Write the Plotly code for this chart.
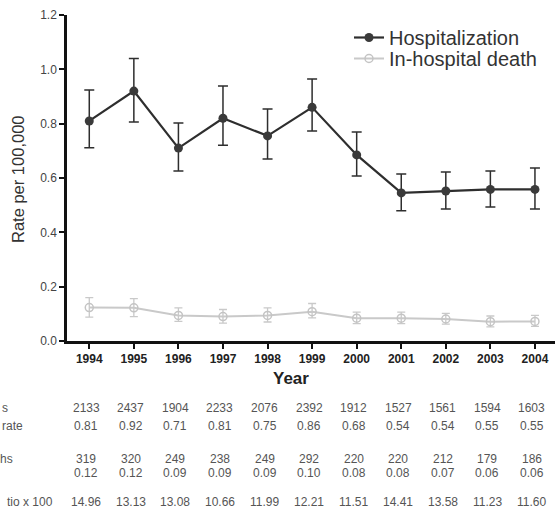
import plotly.graph_objects as go

years = [1994, 1995, 1996, 1997, 1998, 1999, 2000, 2001, 2002, 2003, 2004]

hosp_rate = [0.81, 0.92, 0.71, 0.82, 0.755, 0.86, 0.685, 0.545, 0.552, 0.558, 0.558]
hosp_lo = [0.711, 0.806, 0.626, 0.721, 0.670, 0.773, 0.607, 0.479, 0.486, 0.493, 0.486]
hosp_hi = [0.924, 1.040, 0.802, 0.939, 0.854, 0.964, 0.769, 0.615, 0.622, 0.626, 0.637]

death_rate = [0.123, 0.122, 0.094, 0.090, 0.094, 0.108, 0.084, 0.084, 0.081, 0.071, 0.072]
death_lo = [0.088, 0.090, 0.072, 0.066, 0.070, 0.085, 0.064, 0.064, 0.062, 0.052, 0.054]
death_hi = [0.160, 0.156, 0.122, 0.116, 0.122, 0.138, 0.106, 0.106, 0.102, 0.092, 0.094]

# table rows beneath the chart (row labels are cut off at the left edge in the source)
row_labels = ["s", "rate", "hs", "", "tio x 100"]
row_values = [
    ["2133", "2437", "1904", "2233", "2076", "2392", "1912", "1527", "1561", "1594", "1603"],
    ["0.81", "0.92", "0.71", "0.81", "0.75", "0.86", "0.68", "0.54", "0.54", "0.55", "0.55"],
    ["319", "320", "249", "238", "249", "292", "220", "220", "212", "179", "186"],
    ["0.12", "0.12", "0.09", "0.09", "0.09", "0.10", "0.08", "0.08", "0.07", "0.06", "0.06"],
    ["14.96", "13.13", "13.08", "10.66", "11.99", "12.21", "11.51", "14.41", "13.58", "11.23", "11.60"],
]

FONT = "Arial, 'Liberation Sans', sans-serif"
W, H = 555, 520
ML, MR, MT, MB = 67, 0, 15, 179
PW = W - ML - MR
PH = H - MT - MB


def py(pix):
    return (H - MB - pix) / PH


def px(pix):
    return (pix - ML) / PW


fig = go.Figure()

fig.add_trace(go.Scatter(
    x=years, y=death_rate, name="In-hospital death", mode="lines+markers",
    legend="legend2",
    line=dict(color="#c9c9c9", width=2),
    marker=dict(symbol="circle-open", size=8, color="#c4c4c4", line=dict(width=1.5)),
    error_y=dict(type="data", symmetric=False,
                 array=[h - v for h, v in zip(death_hi, death_rate)],
                 arrayminus=[v - l for v, l in zip(death_rate, death_lo)],
                 color="#c9c9c9", thickness=1.3, width=4),
))

fig.add_trace(go.Scatter(
    x=years, y=hosp_rate, name="Hospitalization", mode="lines+markers",
    legend="legend",
    line=dict(color="#2e2e2e", width=2.2),
    marker=dict(symbol="circle", size=9, color="#3a3a3a"),
    error_y=dict(type="data", symmetric=False,
                 array=[h - v for h, v in zip(hosp_hi, hosp_rate)],
                 arrayminus=[v - l for v, l in zip(hosp_rate, hosp_lo)],
                 color="#2e2e2e", thickness=1.5, width=5),
))

legend_common = dict(xanchor="left", yanchor="top", font=dict(size=20, color="#333"),
                     bgcolor="rgba(0,0,0,0)", borderwidth=0)

fig.update_layout(
    width=W, height=H,
    margin=dict(l=ML, r=MR, t=MT, b=MB, pad=0),
    paper_bgcolor="white", plot_bgcolor="white",
    font=dict(family=FONT, color="#333"),
    showlegend=True,
    legend=dict(x=px(349), y=py(18), **legend_common),
    legend2=dict(x=px(349), y=py(39), **legend_common),
    xaxis=dict(range=[1993.5, 2004.45], tickmode="array", tickvals=years,
               ticktext=[f"<b>{y}</b>" for y in years],
               showline=True, linecolor="#111", linewidth=2.5,
               ticks="outside", ticklen=5, tickwidth=2, tickcolor="#111",
               showgrid=False, zeroline=False,
               tickfont=dict(size=12, color="#222")),
    yaxis=dict(range=[0, 1.2], tickvals=[0, 0.2, 0.4, 0.6, 0.8, 1.0, 1.2],
               ticktext=["0.0", "0.2", "0.4", "0.6", "0.8", "1.0", "1.2"],
               showline=True, linecolor="#111", linewidth=2.5,
               ticks="outside", ticklen=5, tickwidth=2, tickcolor="#111",
               showgrid=False, zeroline=False,
               tickfont=dict(size=12, color="#444")),
)

ann = []
ann.append(dict(text="Rate per 100,000", xref="paper", yref="paper",
                x=px(18), y=py(179), textangle=-90, showarrow=False,
                font=dict(size=16.5, color="#333"), xanchor="center", yanchor="middle"))
ann.append(dict(text="<b>Year</b>", xref="paper", yref="paper",
                x=px(291), y=py(378), showarrow=False,
                font=dict(size=17, color="#222"), xanchor="center", yanchor="middle"))

row_y = [408, 426, 459, 473, 502]
row_label_end = [10, 25, 15, 0, 55]
for lab, vals, ry, le in zip(row_labels, row_values, row_y, row_label_end):
    if lab:
        ann.append(dict(text=lab, xref="paper", yref="paper", x=px(le), y=py(ry),
                        showarrow=False, xanchor="right", yanchor="middle",
                        font=dict(size=12, color="#555")))
    for yr, v in zip(years, vals):
        ann.append(dict(text=v, xref="x", yref="paper", x=yr, y=py(ry),
                        xshift=-3, showarrow=False, xanchor="center", yanchor="middle",
                        font=dict(size=12, color="#555")))

fig.update_layout(annotations=ann)

fig.write_html("out.html")
